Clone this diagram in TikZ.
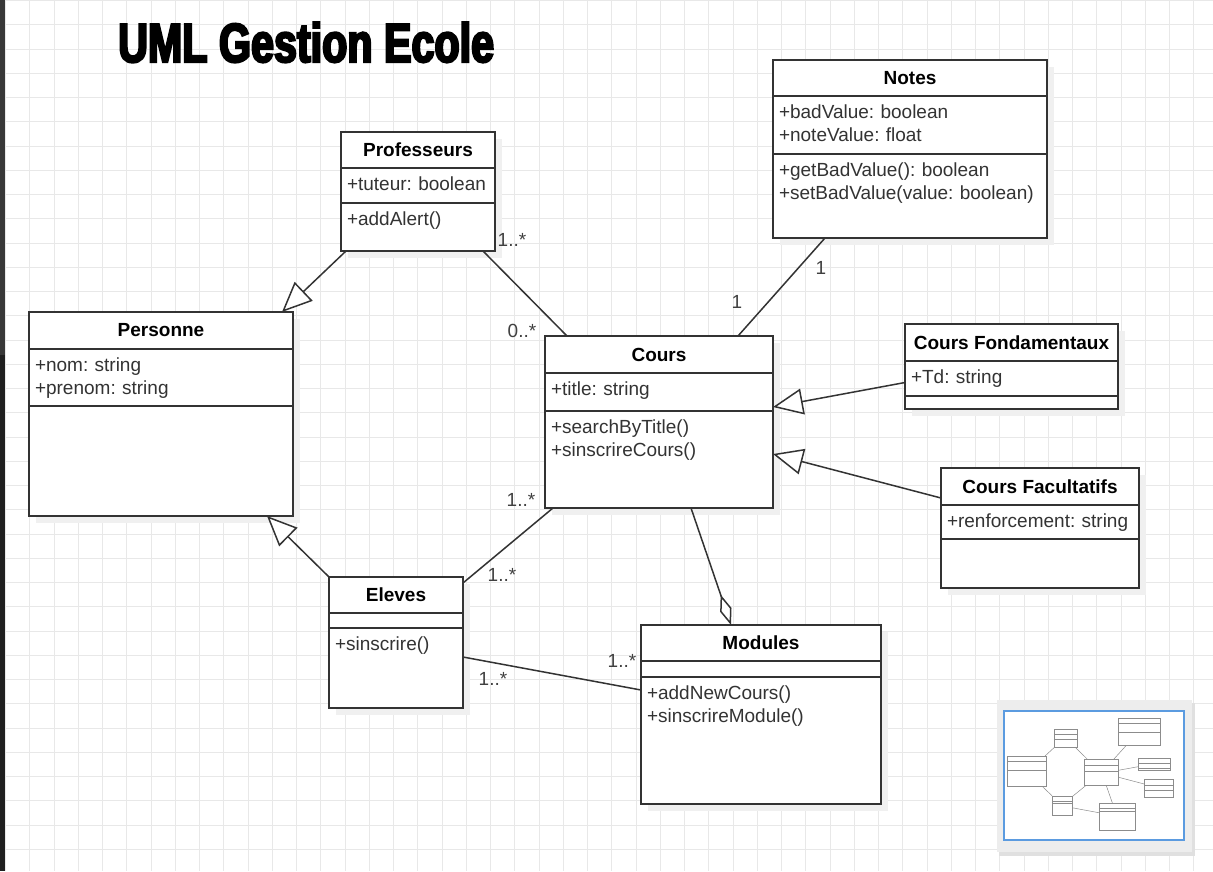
\documentclass[tikz,border=0pt]{standalone}
\usepackage{fontspec}
\setmainfont{Liberation Sans}
\newfontfamily\titlefont[FakeStretch=0.75,BoldFeatures={FakeBold=4}]{Liberation Sans}
\usetikzlibrary{positioning,arrows.meta,shadows}
\definecolor{umlline}{HTML}{333333}
\definecolor{gridline}{HTML}{E8E8E8}
\definecolor{mapblue}{HTML}{5B9BE0}
\tikzset{every node/.append style={font=\fontsize{19}{23}\selectfont\frenchspacing}}

\begin{document}
\begin{tikzpicture}[x=1pt, y=-1pt,
    head/.style={draw=umlline, fill=white, line width=1.6pt, outer sep=0pt, inner sep=0pt,
      anchor=north west, font=\fontsize{19}{23}\selectfont\bfseries,
      drop shadow={shadow xshift=7pt, shadow yshift=-7pt, fill=black!6, opacity=1}},
    part/.style={draw=umlline, fill=white, line width=1.6pt, outer sep=0pt,
      inner xsep=6pt, inner ysep=0pt, align=left, text height=22pt, text=black!80,
      drop shadow={shadow xshift=7pt, shadow yshift=-7pt, fill=black!6, opacity=1}},
    empty/.style={part, text height=0pt},
    link/.style={draw=umlline, line width=1.5pt},
    gen/.style={link, -{Triangle[length=30pt, width=26pt, fill=white]}},
    agg/.style={link, -{Diamond[length=32pt, width=12pt, fill=white]}},
    mult/.style={text=black!75, inner sep=0pt}]

  \useasboundingbox (0,0) rectangle (1213,871);
  \fill[white] (0,0) rectangle (1213,871);
  % grid
  \foreach \i in {0,...,49}
    \draw[gridline, line width=0.6pt] (5.5+24.25*\i,0) -- ++(0,871);
  \foreach \j in {0,...,36}
    \draw[gridline, line width=0.6pt] (5,0.3+24.25*\j) -- ++(1208,0);
  \fill[black!78] (0,0) rectangle (5,355);
  \fill[black!88] (0,355) rectangle (5,871);

  \node[anchor=base west, inner sep=0pt, font=\titlefont\bfseries\fontsize{55}{55}\selectfont] (title) at (118,62) {UML Gestion Ecole};

  % classes
  \node[head, minimum width=264pt, minimum height=37pt] (personne) at (29,312) {Personne};
  \node[part, text width=252pt, text depth=35pt, below=0pt of personne] (personneAttr) {+nom: string\\+prenom: string};
  \node[empty, text width=252pt, text depth=110pt, below=0pt of personneAttr] (personneOps) {};

  \node[head, minimum width=154pt, minimum height=36pt] (prof) at (341,132) {Professeurs};
  \node[part, text width=142pt, text depth=13pt, below=0pt of prof] (profAttr) {+tuteur: boolean};
  \node[part, text width=142pt, text depth=26pt, below=0pt of profAttr] (profOps) {+addAlert()};

  \node[head, minimum width=274pt, minimum height=36pt] (notes) at (773,60) {Notes};
  \node[part, text width=262pt, text depth=36pt, below=0pt of notes] (notesAttr) {+badValue: boolean\\+noteValue: float};
  \node[part, text width=262pt, text depth=62pt, below=0pt of notesAttr] (notesOps) {+getBadValue(): boolean\\+setBadValue(value: boolean)};

  \node[head, minimum width=228pt, minimum height=37pt] (cours) at (545,336) {Cours};
  \node[part, text width=216pt, text depth=16pt, below=0pt of cours] (coursAttr) {+title: string};
  \node[part, text width=216pt, text depth=75pt, below=0pt of coursAttr] (coursOps) {+searchByTitle()\\+sinscrireCours()};

  \node[head, minimum width=213pt, minimum height=37pt] (fond) at (905,324) {Cours Fondamentaux};
  \node[part, text width=201pt, text depth=13pt, below=0pt of fond] (fondAttr) {+Td: string};
  \node[empty, text width=201pt, text depth=13pt, below=0pt of fondAttr] (fondOps) {};

  \node[head, minimum width=198pt, minimum height=37pt] (facult) at (941,468) {Cours Facultatifs};
  \node[part, text width=186pt, text depth=12pt, below=0pt of facult] (facultAttr) {+renforcement: string};
  \node[empty, text width=186pt, text depth=49pt, below=0pt of facultAttr] (facultOps) {};

  \node[head, minimum width=134pt, minimum height=36pt] (eleves) at (329,577) {Eleves};
  \node[empty, text width=122pt, text depth=15pt, below=0pt of eleves] (elevesAttr) {};
  \node[part, text width=122pt, text depth=58pt, below=0pt of elevesAttr] (elevesOps) {+sinscrire()};

  \node[head, minimum width=240pt, minimum height=36pt] (modules) at (641,625) {Modules};
  \node[empty, text width=228pt, text depth=16pt, below=0pt of modules] (modulesAttr) {};
  \node[part, text width=228pt, text depth=105pt, below=0pt of modulesAttr] (modulesOps) {+addNewCours()\\+sinscrireModule()};

  % connectors
  \draw[gen] ([xshift=5pt]profOps.south west) -- ([xshift=-11pt]personne.north east);
  \draw[gen] (eleves.north west) -- ([xshift=-26pt]personneOps.south east);
  \draw[gen] ([yshift=-4pt]fondAttr.west) -- ([yshift=4pt]coursAttr.south east);
  \draw[gen] ([yshift=-11.5pt]facult.west) -- ([yshift=5.5pt]coursOps.east);
  \draw[link] ([xshift=-12pt]profOps.south east) -- ([xshift=22pt]cours.north west);
  \draw[link] ([xshift=52pt]notesOps.south west) -- ([xshift=-35pt]cours.north east);
  \draw[link] ([yshift=-6pt]eleves.north east) -- ([xshift=8pt]coursOps.south west);
  \draw[link] ([yshift=-29pt]elevesOps.north east) -- ([yshift=-13pt]modulesOps.north west);
  \draw[agg] ([xshift=-82pt]coursOps.south east) -- ([xshift=90pt]modules.north west);

  % multiplicities
  \node[mult] (mProf) at (512,240) {1..*};
  \node[mult] (mCoursProf) at (522,331) {0..*};
  \node[mult] (mNotes) at (821,268) {1};
  \node[mult] (mCoursNotes) at (737,302) {1};
  \node[mult] (mCoursEleves) at (521,500) {1..*};
  \node[mult] (mElevesCours) at (502,575) {1..*};
  \node[mult] (mElevesMod) at (493,679) {1..*};
  \node[mult] (mModEleves) at (622,661) {1..*};

  % minimap
  \fill[black!12] (999,703) rectangle (1195,856);
  \fill[black!7] (997,700) rectangle (1192,852);
  \draw[mapblue, line width=1.5pt, fill=white] (1004,711) rectangle (1184,840);
  \begin{scope}[shift={(1002.7,709.2)}, scale=0.15, black!45, line width=0.5pt]
    \foreach \xa/\ya/\xb/\yb/\sa/\sb in {29/312/293/516/349/406, 341/132/495/251/168/203,
        773/60/1047/238/96/154, 545/336/773/508/373/411, 905/324/1118/409/361/396,
        941/468/1139/588/505/539, 329/577/463/708/613/628, 641/625/881/804/661/677}
      \draw (\xa,\ya) rectangle (\xb,\yb) (\xa,\sa) -- (\xb,\sa) (\xa,\sb) -- (\xb,\sb);
    \draw (346,253) -- (282,312) (329,577) -- (267,518) (905,383) -- (773,407)
      (941,498) -- (773,454) (483,253) -- (567,336) (825,240) -- (738,336)
      (463,583) -- (553,510) (463,657) -- (641,690) (691,510) -- (731,625);
  \end{scope}
\end{tikzpicture}
\end{document}
